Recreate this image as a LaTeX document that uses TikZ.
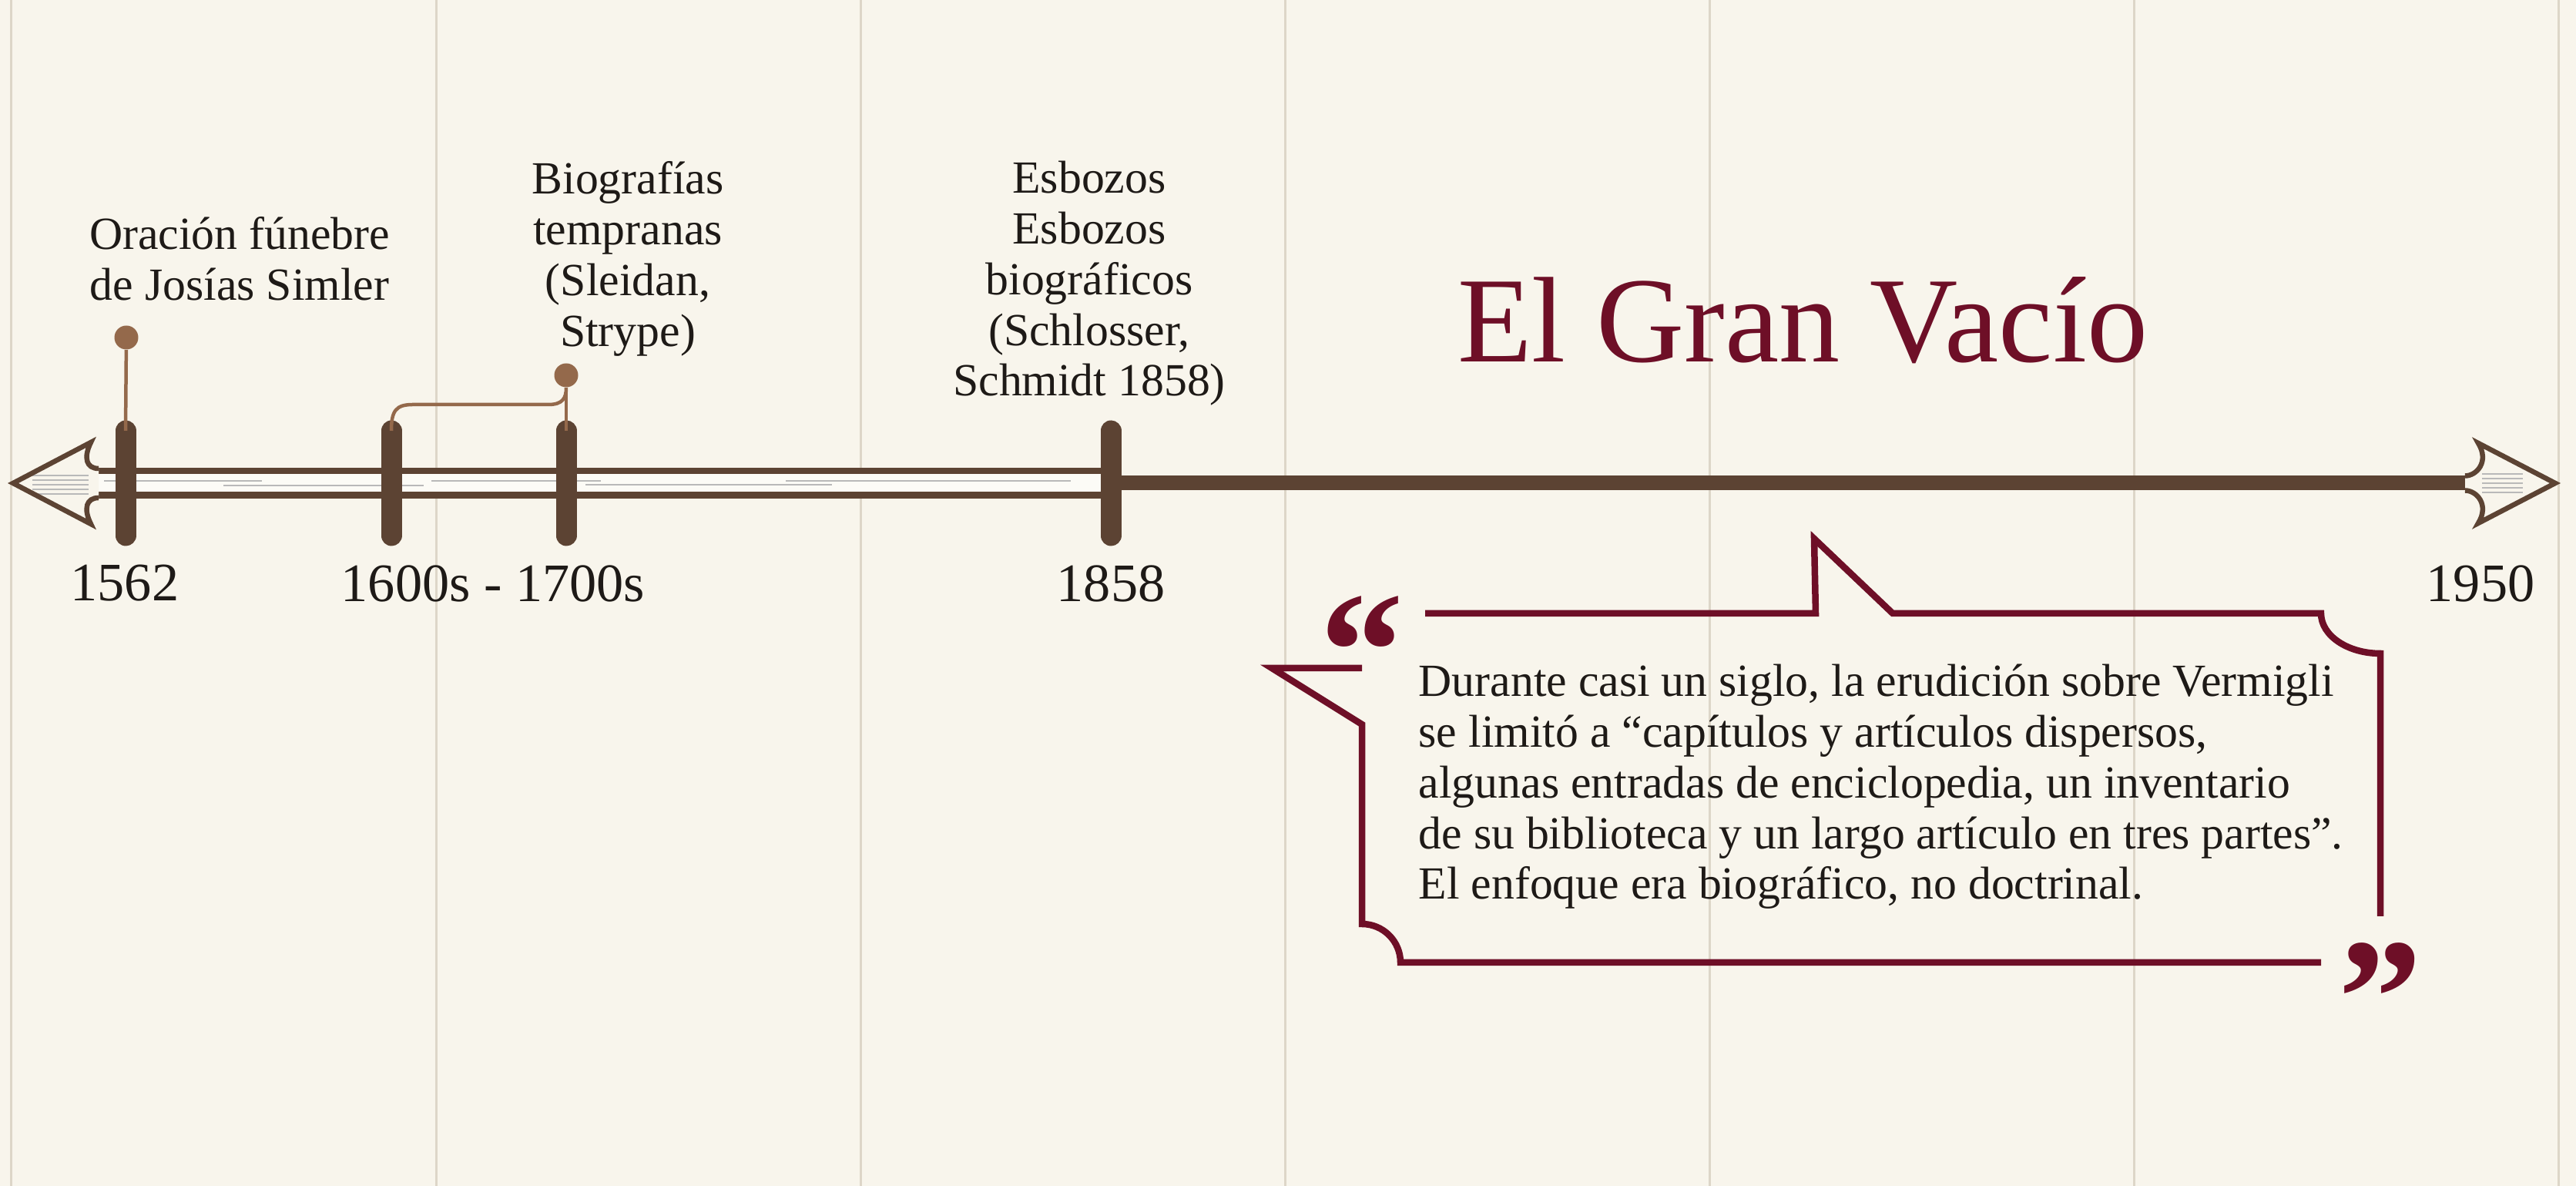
\documentclass[tikz,border=0pt]{standalone}
\usepackage{fontspec}
\setmainfont{Liberation Serif}

\definecolor{paper}{HTML}{F8F5EC}
\definecolor{railwhite}{HTML}{FCFBF6}
\definecolor{gridline}{HTML}{DDD6C8}
\definecolor{barbrown}{HTML}{5C4333}
\definecolor{stembrown}{HTML}{94694B}
\definecolor{wine}{HTML}{6E0F27}
\definecolor{inktext}{HTML}{1E1A17}

\tikzset{
  yearbar/.style={line width=0.27cm, line cap=round, barbrown},
  stem/.style={line width=0.045cm, stembrown},
  evtdot/.style={circle, fill=stembrown, inner sep=0pt, minimum size=0.31cm},
  evtlabel/.style={align=center, inner sep=0pt, text=inktext, font=\fontsize{17}{18.7}\selectfont},
  yearlabel/.style={inner sep=0pt, text=inktext, font=\fontsize{20}{24}\selectfont},
  bubble/.style={wine, line width=0.085cm, line join=miter},
  bigquote/.style={anchor=base, inner sep=0pt, text=wine, font=\fontsize{62}{62}\selectfont\bfseries},
  streak/.style={gray!55, line width=0.6pt},
}

\begin{document}
\begin{tikzpicture}
    % paper and faint columns
    \fill[paper] (0,0) rectangle (33.44,15.39);
    \useasboundingbox (0,0) rectangle (33.44,15.39);
    \foreach \x in {0.15,5.66,11.17,16.68,22.19,27.70,33.21}
        \draw[gridline, line width=0.03cm] (\x,0) -- (\x,15.39);

    % axis points
    \coordinate (tipL) at (0.17,9.12);
    \coordinate (tipR) at (33.17,9.12);
    \coordinate (railL) at (1.28,9.12);
    \coordinate (railR) at (32.00,9.12);
    \foreach \n/\x in {1562/1.63, 1600/5.08, 1700/7.35, 1858/14.42} {
        \coordinate (m\n) at (\x,9.12);
        \coordinate (top\n) at (\x,9.80);
        \coordinate (bot\n) at (\x,8.44);
    }

    % hollow rail up to 1858
    \draw[barbrown, line width=0.40cm] (railL) -- (m1858);
    \draw[railwhite, line width=0.23cm] (railL) -- (m1858);
    \draw[streak] (1.35,9.15) -- (3.40,9.15);
    \draw[streak] (2.90,9.09) -- (5.50,9.09);
    \draw[streak] (5.60,9.15) -- (7.80,9.15);
    \draw[streak] (7.60,9.10) -- (10.80,9.10);
    \draw[streak] (10.20,9.15) -- (13.90,9.15);

    % solid rail after 1858
    \draw[barbrown, line width=0.19cm] (m1858) -- (railR);

    % left arrow head
    \fill[paper] (railL |- 0,9.31) .. controls (1.12,9.31) and (1.08,9.45) .. (1.18,9.65)
        -- (tipL) -- (1.18,8.59) .. controls (1.08,8.79) and (1.12,8.93) .. (railL |- 0,8.93) -- cycle;
    \foreach \y in {9.22,9.16,9.10,9.04,8.98}
        \draw[streak] (0.42,\y) -- (1.15,\y);
    \draw[barbrown, line width=0.065cm, line join=miter] (railL |- 0,9.31)
        .. controls (1.12,9.31) and (1.08,9.45) .. (1.18,9.65) -- (tipL)
        -- (1.18,8.59) .. controls (1.08,8.79) and (1.12,8.93) .. (railL |- 0,8.93);

    % right arrow head
    \fill[paper] (railR |- 0,9.215) .. controls (32.15,9.215) and (32.32,9.40) .. (32.17,9.64)
        -- (tipR) -- (32.17,8.60) .. controls (32.32,8.84) and (32.15,9.025) .. (railR |- 0,9.025) -- cycle;
    \foreach \y in {9.24,9.18,9.12,9.06,9.00}
        \draw[streak] (32.22,\y) -- (32.75,\y);
    \draw[barbrown, line width=0.065cm, line join=miter] (railR |- 0,9.215)
        .. controls (32.15,9.215) and (32.32,9.40) .. (32.17,9.64) -- (tipR)
        -- (32.17,8.60) .. controls (32.32,8.84) and (32.15,9.025) .. (railR |- 0,9.025);

    % year bars
    \foreach \n in {1562,1600,1700,1858}
        \draw[yearbar] (bot\n) -- (top\n);

    % pins
    \node[evtdot] (d1562) at (1.64,11.01) {};
    \node[evtdot] (d1700) at (7.35,10.52) {};
    \draw[stem] (d1562) -- (top1562);
    \draw[stem] (d1700) -- (top1700);
    \draw[stem] (d1700.south) .. controls (7.35,10.22) and (7.30,10.14) .. (7.12,10.14)
        -- (5.36,10.14) .. controls (5.14,10.14) and (5.08,10.06) .. (top1600);

    % event texts
    \node[evtlabel] (lblSimler) at (3.11,12.03) {Oración fúnebre\\de Josías Simler};
    \node[evtlabel] (lblBio) at (8.15,12.03) {Biografías\\tempranas\\(Sleidan,\\Strype)};
    \node[evtlabel] (lblEsb) at (14.14,11.71) {Esbozos\\Esbozos\\biográficos\\(Schlosser,\\Schmidt 1858)};

    % years
    \node[yearlabel] (y1562) at (1.62,7.82) {1562};
    \node[yearlabel] (y1600) at (6.40,7.82) {1600s - 1700s};
    \node[yearlabel] (y1858) at (14.42,7.82) {1858};
    \node[yearlabel] (y1950) at (32.20,7.82) {1950};

    % title
    \node[anchor=base, text=wine, font=\fontsize{45}{50}\selectfont] (title) at (23.40,10.69) {El Gran Vacío};

    % speech bubble
    \draw[bubble] (18.50,7.43) -- (23.57,7.43) -- (23.55,8.40) -- (24.57,7.43) -- (30.13,7.43)
        arc[start angle=180, end angle=270, x radius=0.77, y radius=0.52] -- (30.90,3.50);
    \draw[bubble] (17.68,6.72) -- (16.51,6.72) -- (17.68,5.99) -- (17.68,3.40)
        arc[start angle=90, end angle=0, radius=0.5] -- (30.13,2.90);
    \node[bigquote] (qopen) at (17.68,6.20) {“};
    \node[bigquote] (qclose) at (30.90,1.70) {”};
    \node[evtlabel, align=left, anchor=west] (quote) at (18.41,5.18) {Durante casi un siglo, la erudición sobre Vermigli\\se limitó a “capítulos y artículos dispersos,\\algunas entradas de enciclopedia, un inventario\\de su biblioteca y un largo artículo en tres partes”.\\El enfoque era biográfico, no doctrinal.};
\end{tikzpicture}
\end{document}
